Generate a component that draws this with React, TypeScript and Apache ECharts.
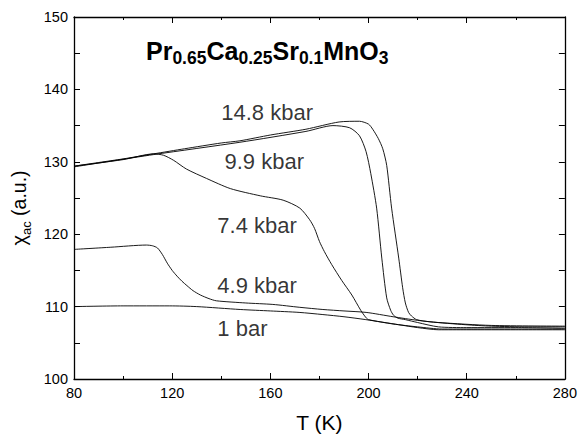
import React, { useEffect, useRef } from "react";
import * as echarts from "echarts";

const FONT = "'Liberation Sans', Arial, Helvetica, sans-serif";

// 14.8 kbar
const T_148 = [80, 90, 100, 112.5, 125, 140, 147.6, 160, 174.5, 188, 196.3, 200, 201.7, 204, 205.8, 207.4, 209.4, 212.3, 213.9, 215, 216.3, 217.5, 219.6, 225, 239.4, 250, 265, 280];
const V_148 = [129.4, 129.9, 130.4, 131.1, 131.8, 132.6, 132.9, 133.7, 134.5, 135.5, 135.6, 135.2, 134.5, 133.2, 131.8, 129.5, 123.6, 116.7, 112.6, 110.5, 109.2, 108.7, 108.2, 107.9, 107.5, 107.3, 107.2, 107.2];

// 9.9 kbar
const T_99 = [80, 112.5, 147.6, 174.5, 185.5, 192.3, 196.3, 199, 200.9, 203.3, 205.4, 207.4, 209, 210.2, 212, 215, 220, 228.5, 240, 260, 280];
const V_99 = [129.3, 131.0, 132.7, 134.2, 135.0, 134.7, 133.6, 131.4, 128.4, 123.6, 116.7, 111.2, 109.5, 108.8, 108.4, 108.2, 107.8, 107.2, 107.1, 107.1, 107.0];

// 7.4 kbar
const T_74 = [80, 100, 112.5, 116.5, 120.6, 125.8, 134, 143.7, 155.9, 165.2, 172, 176, 178, 180, 182, 185, 189.1, 193.2, 196.8, 198.9, 200, 210, 220, 230, 250, 280];
const V_74 = [129.4, 130.3, 131.1, 130.9, 130.2, 129.0, 127.7, 126.3, 125.3, 124.7, 123.6, 122.0, 120.8, 119.0, 117.6, 115.8, 113.6, 111.6, 109.5, 108.5, 108.2, 107.6, 107.2, 106.9, 106.9, 106.9];

// 4.9 kbar
const T_49 = [80, 95, 109.5, 112, 114, 116, 118, 120, 122, 124, 126, 128.5, 131.5, 135, 138, 150, 161, 172, 181.4, 190, 199, 210, 220, 228.5, 250, 280];
const V_49 = [117.9, 118.2, 118.5, 118.4, 118.1, 117.2, 116.0, 115.0, 114.2, 113.5, 112.9, 112.2, 111.6, 111.1, 110.8, 110.5, 110.3, 109.9, 109.6, 109.4, 109.2, 108.6, 108.1, 107.8, 107.4, 107.3];

// 1 bar
const T_1 = [80, 100, 119, 130, 147.7, 160, 171.7, 181.4, 190, 198.9, 212.3, 220, 228.5, 240, 260, 280];
const V_1 = [110.0, 110.1, 110.1, 110.0, 109.6, 109.4, 109.2, 108.9, 108.6, 108.2, 107.5, 107.1, 106.8, 106.8, 106.8, 106.8];

const SERIES_NAMES = ["14.8 kbar", "9.9 kbar", "7.4 kbar", "4.9 kbar", "1 bar"];
const LABEL_T = [140, 141.3, 138.4, 138.4, 138.4];
const LABEL_V = [136.8, 130.0, 121.2, 112.9, 107.0];

const X_MIN = 80, X_MAX = 280, X_STEP = 40;
const Y_MIN = 100, Y_MAX = 150, Y_STEP = 10;

const zip = (t: number[], v: number[]) => t.map((x, i) => [x, v[i]]);

export default function App() {
  const ref = useRef<HTMLDivElement>(null);
  useEffect(() => {
    const chart = echarts.init(ref.current!, null, { renderer: "svg" });
    const axisLine = { show: true, lineStyle: { color: "#000", width: 1.3 } };
    const xBase = {
      type: "value" as const,
      min: X_MIN, max: X_MAX, interval: X_STEP,
      axisLine,
      axisTick: { show: true, inside: true, length: 6, lineStyle: { color: "#000", width: 1 } },
      minorTick: { show: true, splitNumber: 2, length: 3, lineStyle: { color: "#000", width: 1 } },
      splitLine: { show: false },
      minorSplitLine: { show: false },
    };
    const yBase = {
      type: "value" as const,
      min: Y_MIN, max: Y_MAX, interval: Y_STEP,
      axisLine,
      axisTick: { show: true, inside: true, length: 6, lineStyle: { color: "#000", width: 1 } },
      minorTick: { show: true, splitNumber: 2, length: 6, lineStyle: { color: "#000", width: 1 } },
      splitLine: { show: false },
      minorSplitLine: { show: false },
    };
    const curves = [zip(T_148, V_148), zip(T_99, V_99), zip(T_74, V_74), zip(T_49, V_49), zip(T_1, V_1)];
    chart.setOption({
      animation: false,
      backgroundColor: "#fff",
      grid: { left: 74, right: 13, top: 17, bottom: 56, containLabel: false },
      xAxis: [
        {
          ...xBase,
          position: "bottom",
          axisLabel: { show: true, color: "#000", fontSize: 14.5, fontFamily: FONT, margin: 6 },
          name: "T (K)",
          nameLocation: "middle",
          nameGap: 33,
          nameTextStyle: { color: "#000", fontSize: 21, fontFamily: FONT },
        },
        { ...xBase, position: "top", axisLabel: { show: false } },
      ],
      yAxis: [
        {
          ...yBase,
          position: "left",
          axisLabel: { show: true, color: "#000", fontSize: 14.5, fontFamily: FONT, margin: 6 },
          name: "{c|χ}{s|ac}{n| (a.u.)}",
          nameLocation: "middle",
          nameGap: 37,
          nameTextStyle: {
            color: "#000",
            fontFamily: FONT,
            padding: [0, 20, 0, 0],
            rich: {
              c: { fontSize: 20, fontFamily: FONT, color: "#000", lineHeight: 24, verticalAlign: "top" },
              s: { fontSize: 13, fontFamily: FONT, color: "#000", lineHeight: 13, verticalAlign: "bottom" },
              n: { fontSize: 19.5, fontFamily: FONT, color: "#000", lineHeight: 24, verticalAlign: "top" },
            },
          },
        },
        { ...yBase, position: "right", axisLabel: { show: false } },
      ],
      graphic: [
        {
          type: "text",
          left: 146,
          top: 38,
          style: {
            text: "{m|Pr}{s|0.65}{m|Ca}{s|0.25}{m|Sr}{s|0.1}{m|MnO}{s|3}",
            rich: {
              m: { fontSize: 25, fontWeight: "bold", fontFamily: FONT, fill: "#000", lineHeight: 29, verticalAlign: "top" },
              s: { fontSize: 17.5, fontWeight: "bold", fontFamily: FONT, fill: "#000", lineHeight: 13, verticalAlign: "bottom" },
            },
          },
        },
      ],
      series: [
        ...curves.map((d, i) => ({
          type: "line",
          name: SERIES_NAMES[i],
          data: d,
          showSymbol: false,
          symbol: "none",
          smooth: 0.25,
          lineStyle: { color: "#000", width: 0.9 },
          xAxisIndex: 0,
          yAxisIndex: 0,
          z: 3,
        })),
        {
          type: "scatter",
          name: "labels",
          symbolSize: 0,
          data: SERIES_NAMES.map((n, i) => ({ value: [LABEL_T[i], LABEL_V[i]], name: n })),
          label: {
            show: true,
            position: "right",
            distance: 0,
            formatter: (p: any) => p.name,
            color: "#000",
            fontSize: 22,
            fontFamily: FONT,
          },
          silent: true,
          z: 4,
        },
      ],
    });
    return () => chart.dispose();
  }, []);
  return <div ref={ref} style={{ position: "fixed", left: 0, top: 0, width: 580, height: 438 }} />;
}
